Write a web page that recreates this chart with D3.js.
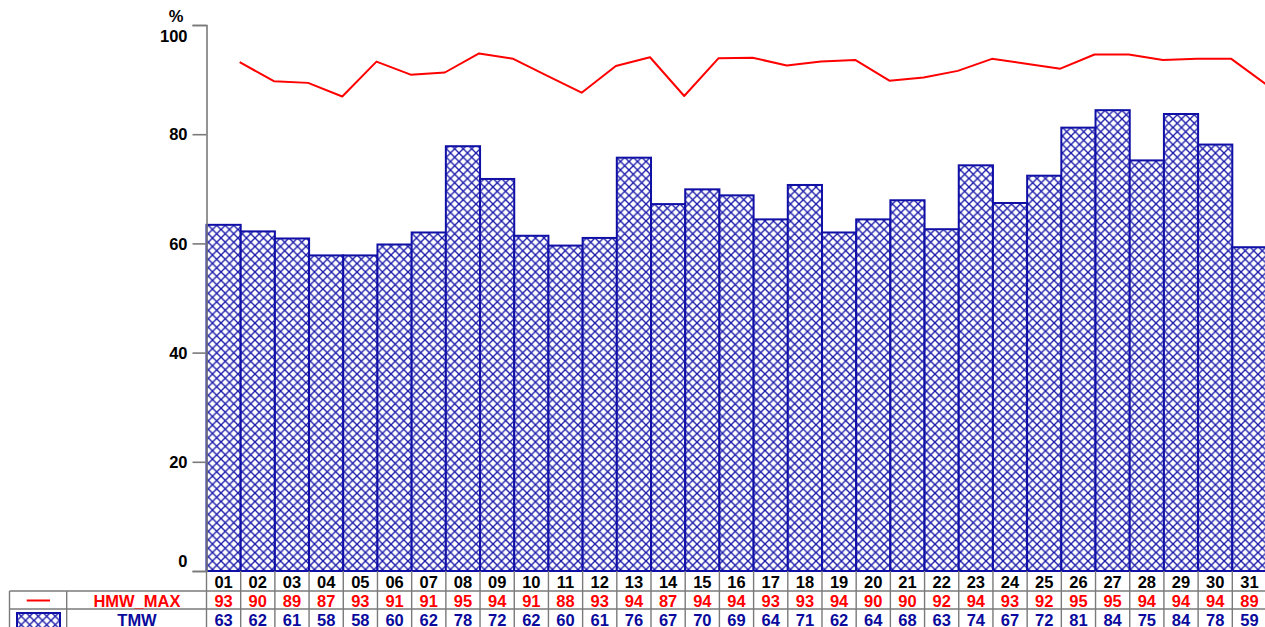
<!DOCTYPE html>
<html><head><meta charset="utf-8">
<script src="https://cdn.jsdelivr.net/npm/d3@7"></script>
<style>
body{margin:0;background:#fff;}
svg{display:block;font-family:"Liberation Sans",Arial,sans-serif;font-weight:bold;}
</style>
</head><body>
<svg id="c" width="1265" height="627"></svg>
<script>
const days = ["01","02","03","04","05","06","07","08","09","10","11","12","13","14","15","16","17","18","19","20","21","22","23","24","25","26","27","28","29","30","31"];
const hmwMax = [93.2,89.7,89.4,86.9,93.3,90.9,91.3,94.8,93.8,90.7,87.6,92.5,94.1,87.0,93.9,94.0,92.6,93.3,93.6,89.8,90.4,91.6,93.8,92.9,92.0,94.6,94.6,93.6,93.8,93.8,89.2];
const tmw = [63.4,62.2,60.9,57.8,57.8,59.8,62.0,77.8,71.8,61.4,59.6,61.0,75.7,67.2,69.9,68.8,64.4,70.7,62.0,64.4,67.9,62.6,74.3,67.4,72.4,81.2,84.4,75.2,83.7,78.1,59.3];
const hmwMaxLabels = ["93","90","89","87","93","91","91","95","94","91","88","93","94","87","94","94","93","93","94","90","90","92","94","93","92","95","95","94","94","94","89"];
const tmwLabels = ["63","62","61","58","58","60","62","78","72","62","60","61","76","67","70","69","64","71","62","64","68","63","74","67","72","81","84","75","84","78","59"];
const yTicks = [0,20,40,60,80,100];
const seriesNames = ["HMW_MAX","TMW"];

const RED = "#ff0000", BLUE = "#1010a6", TXTBLUE = "#0a0a9c", GRAY = "#7a7a7a";
const FS = 16.5;
const svg = d3.select("#c");

const x = d3.scaleBand().domain(days).range([206.5, 1266.5]).padding(0);
const y = d3.scaleLinear().domain([0,100]).range([571, 25]);

// hatch pattern
const s = 8.5;
const pat = svg.append("defs").append("pattern")
  .attr("id","hatch").attr("patternUnits","userSpaceOnUse")
  .attr("width", s).attr("height", s);
pat.append("rect").attr("width", s).attr("height", s).attr("fill","#fff");
pat.append("path")
  .attr("d", `M-1,-1L${s+1},${s+1}M${s+1},-1L-1,${s+1}`)
  .attr("stroke", "#1a1aaa").attr("stroke-width", 1.35).attr("fill","none");

// bars
svg.append("g").selectAll("rect").data(tmw).join("rect")
  .attr("x", (d,i) => x(days[i]))
  .attr("y", d => y(d))
  .attr("width", x.bandwidth())
  .attr("height", d => y(0) - y(d))
  .attr("fill", "url(#hatch)")
  .attr("stroke", BLUE).attr("stroke-width", 2);

// line (points at right edge of each band)
const line = d3.line()
  .x((d,i) => x(days[i]) + x.bandwidth() - 1)
  .y(d => y(d));
svg.append("path").datum(hmwMax)
  .attr("d", line).attr("fill","none")
  .attr("stroke", RED).attr("stroke-width", 2).attr("stroke-linejoin","round");

// y axis
const axis = d3.axisLeft(y).tickValues(yTicks).tickSize(14).tickSizeOuter(14).tickPadding(5);
const gA = svg.append("g").attr("transform","translate(206.5,0)").call(axis);
gA.select(".domain").attr("stroke", GRAY).attr("stroke-width", 1.6);
gA.selectAll(".tick line").attr("stroke", GRAY).attr("stroke-width", 1.6);
gA.selectAll(".tick text")
  .attr("fill","#000").attr("font-size", FS).attr("font-weight","bold")
  .attr("font-family", '"Liberation Sans",Arial,sans-serif')
  .attr("dy", d => d === 100 ? "1.0em" : d === 0 ? "-0.3em" : "0.35em");
svg.append("text").attr("x", 176).attr("y", 22).attr("text-anchor","middle")
  .attr("font-size", FS).attr("fill","#000").text("%");

// table
const tbl = svg.append("g");
const rowBase = [588, 607, 626];
const xEnd = 1266.5;
const gridStyle = sel => sel.attr("stroke", GRAY).attr("stroke-width", 1.4);
days.forEach(d => {
  tbl.append("line").attr("x1", x(d)).attr("x2", x(d)).attr("y1", 571).attr("y2", 627).call(gridStyle);
});
[9.5, 66.7].forEach(xx => tbl.append("line").attr("x1", xx).attr("x2", xx).attr("y1", 591).attr("y2", 627).call(gridStyle));
[591, 609].forEach(yy => tbl.append("line").attr("x1", 9.5).attr("x2", xEnd).attr("y1", yy).attr("y2", yy).call(gridStyle));

tbl.selectAll("text.day").data(days).join("text").attr("class","day")
  .attr("x", d => x(d) + x.bandwidth()/2).attr("y", rowBase[0])
  .attr("text-anchor","middle").attr("font-size", FS).attr("fill","#000").text(d => d);
tbl.selectAll("text.hmw").data(hmwMaxLabels).join("text").attr("class","hmw")
  .attr("x", (d,i) => x(days[i]) + x.bandwidth()/2).attr("y", rowBase[1])
  .attr("text-anchor","middle").attr("font-size", FS).attr("fill", RED).text(d => d);
tbl.selectAll("text.tmw").data(tmwLabels).join("text").attr("class","tmw")
  .attr("x", (d,i) => x(days[i]) + x.bandwidth()/2).attr("y", rowBase[2])
  .attr("text-anchor","middle").attr("font-size", FS).attr("fill", TXTBLUE).text(d => d);

tbl.append("text").attr("x", 137).attr("y", rowBase[1]).attr("text-anchor","middle")
  .attr("font-size", FS).attr("fill", RED).text(seriesNames[0]);
tbl.append("text").attr("x", 137).attr("y", rowBase[2]).attr("text-anchor","middle")
  .attr("font-size", FS).attr("fill", TXTBLUE).text(seriesNames[1]);

tbl.append("line").attr("x1", 26.7).attr("x2", 50).attr("y1", 600.5).attr("y2", 600.5)
  .attr("stroke", RED).attr("stroke-width", 2);
tbl.append("rect").attr("x", 17).attr("y", 613).attr("width", 43).attr("height", 20)
  .attr("fill","url(#hatch)").attr("stroke", BLUE).attr("stroke-width", 2);
</script>
</body></html>
